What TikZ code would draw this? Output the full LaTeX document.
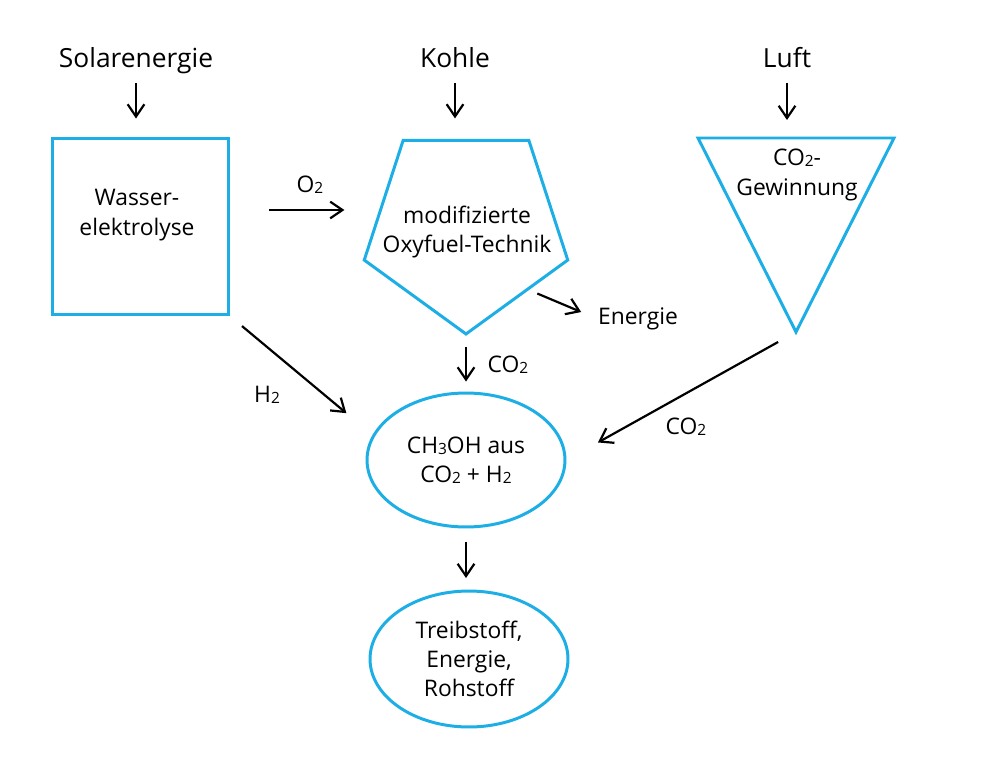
\documentclass[tikz,border=0pt]{standalone}
\usepackage{fontspec}
\setmainfont{Open Sans}
\usetikzlibrary{shapes.geometric,arrows.meta}
\definecolor{diagblue}{RGB}{30,174,230}
\newcommand{\chsub}[1]{{\fontsize{8.8pt}{8.8pt}\selectfont\raisebox{-0.5pt}{#1}}}

\begin{document}
\begin{tikzpicture}[x=0.02cm,y=-0.02cm]
		\tikzstyle{every node}+=[inner sep=0pt]
		\tikzstyle{shp}=[draw=diagblue, line width=1.7pt]
		\tikzstyle{title}=[font=\fontsize{15pt}{20pt}\selectfont, anchor=base, text depth=0pt]
		\tikzstyle{txt}=[font=\fontsize{13pt}{16.7pt}\selectfont, align=center]
		\tikzstyle{arr}=[black, line width=1.25pt, -{Straight Barb[length=7pt,width=9.5pt]}]
		\useasboundingbox (0,0) rectangle (1000,777);
		\node [title] (sol) at (136,68) {Solarenergie};
		\node [title] (kohle) at (455,68) {Kohle};
		\node [title] (luft) at (787,68) {Luft};
		\node [shp, minimum width=3.54cm, minimum height=3.54cm] (elyse) at (140.5,226.5) {};
		\node [txt] (elyseT) at (137,215) {Wasser-\\elektrolyse};
		\node [shp, regular polygon, regular polygon sides=5, shape border rotate=180, minimum size=4.28cm] (oxy) at (466,227) {};
		\node [txt] (oxyT) at (467,232) {modifizierte\\Oxyfuel-Technik};
		\coordinate (gewL) at (698,138);
		\coordinate (gewR) at (894,138);
		\coordinate (gewTip) at (796,332);
		\draw [shp] (gewL) -- (gewR) -- (gewTip) -- cycle;
		\node [txt] (gewT) at (797,175) {CO\chsub{2}-\\Gewinnung};
		\node [shp, ellipse, txt, minimum width=3.96cm, minimum height=2.68cm] (meth) at (466,460) {CH\chsub{3}OH aus\\CO\chsub{2} + H\chsub{2}};
		\node [shp, ellipse, txt, minimum width=3.96cm, minimum height=2.72cm] (fuel) at (469,659) {Treibstoff,\\Energie,\\Rohstoff};
		\node [txt] (lblO) at (310,185) {O\chsub{2}};
		\node [txt] (lblE) at (638,319) {Energie};
		\node [txt] (lblC1) at (508,365) {CO\chsub{2}};
		\node [txt] (lblH) at (267,395) {H\chsub{2}};
		\node [txt] (lblC2) at (686,427) {CO\chsub{2}};
		\draw [arr, shorten <=0.3cm, shorten >=0.36cm] (sol.south) -- (sol.south |- elyse.north);
		\draw [arr, shorten <=0.3cm, shorten >=0.41cm] (kohle.south) -- (kohle.south |- oxy.north);
		\draw [arr, shorten <=0.3cm, shorten >=0.36cm] (luft.south) -- (luft.south |- gewL);
		\coordinate (o2start) at ([yshift=0.33cm]elyse.east);
		\draw [arr, shorten <=0.78cm, shorten >=0.58cm] (o2start) -- (o2start -| oxy.west);
		\draw [arr, shorten <=0.18cm, shorten >=0.36cm] (oxy.south east) -- (lblE.west);
		\draw [arr, shorten <=0.22cm, shorten >=0.2cm] (oxy.south) -- (oxy.south |- meth.north);
		\draw [arr, shorten <=0.3cm, shorten >=0.68cm] (elyse.south east) -- (meth.165);
		\draw [arr, shorten <=0.41cm, shorten >=0.72cm] (gewTip) -- (meth.east);
		\draw [arr, shorten <=0.27cm, shorten >=0.23cm] (meth.south) -- (meth.south |- fuel.north);
\end{tikzpicture}
\end{document}
